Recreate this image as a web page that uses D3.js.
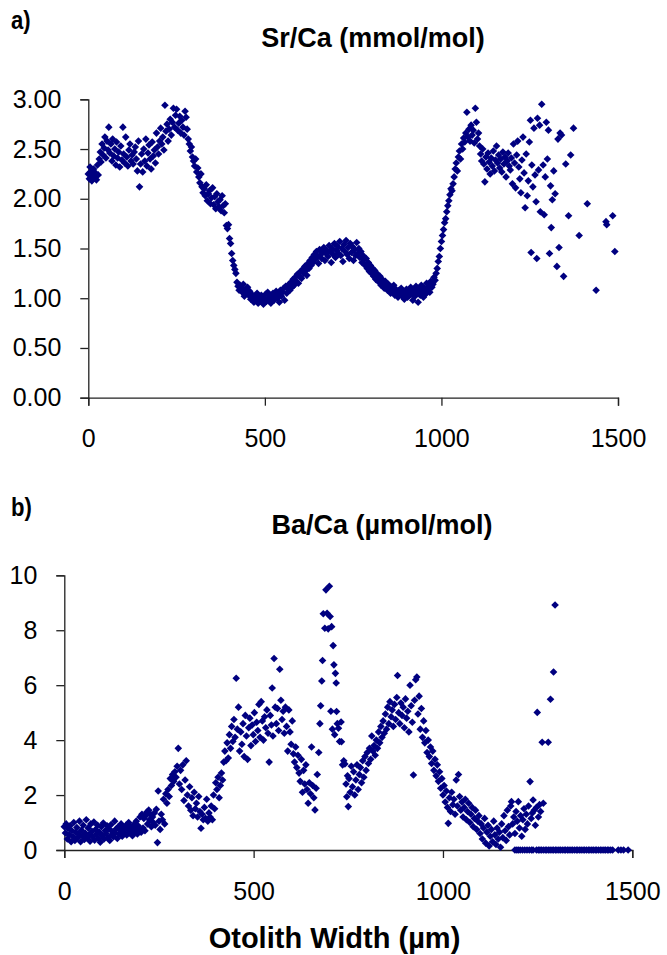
<!DOCTYPE html>
<html>
<head>
<meta charset="utf-8">
<script src="https://cdn.jsdelivr.net/npm/d3@7"></script>
<style>
  body { margin: 0; background: #fff; }
  svg { display: block; font-family: "Liberation Sans", Arial, sans-serif; }
</style>
</head>
<body>
<div id="chart"></div>
<script>
// otolith width (µm) vs Sr/Ca (mmol/mol)
const srCa = [
  [0,2.25],[3,2.20],[5,2.32],[8,2.27],[10,2.18],[12,2.23],[15,2.30],[18,2.21],[20,2.26],[23,2.19],[26,2.34],[28,2.24],
  [31,2.40],[34,2.47],[36,2.37],[39,2.55],[42,2.44],[45,2.51],[47,2.62],[50,2.41],[53,2.58],[56,2.49],[58,2.72],[61,2.46],
  [64,2.55],[67,2.38],[69,2.60],[72,2.43],[75,2.50],[78,2.34],[80,2.57],[83,2.41],[86,2.47],[89,2.32],[92,2.53],[95,2.39],
  [98,2.72],[100,2.45],[103,2.36],[106,2.62],[109,2.42],[112,2.33],[115,2.49],[118,2.55],[121,2.38],[124,2.44],[127,2.35],
  [130,2.47],[133,2.52],[136,2.40],[139,2.28],[142,2.58],[145,2.12],[148,2.35],[151,2.45],[154,2.27],[157,2.50],[160,2.38],
  [163,2.60],[166,2.33],[169,2.46],[172,2.54],[175,2.40],[178,2.30],[181,2.57],[184,2.43],[187,2.49],[190,2.36],[193,2.66],
  [196,2.52],[199,2.45],[202,2.58],[205,2.71],[208,2.55],[211,2.62],[214,2.49],[217,2.94],[220,2.68],[223,2.75],[226,2.58],
  [229,2.70],[232,2.80],[235,2.64],[238,2.77],[241,2.91],[244,2.72],[247,2.84],[250,2.90],[253,2.69],[256,2.76],[259,2.83],
  [262,2.66],[265,2.79],[268,2.72],[271,2.64],[274,2.88],[277,2.82],[280,2.70],[283,2.60],[286,2.55],[289,2.48],[292,2.52],
  [295,2.42],[298,2.38],[301,2.33],[304,2.40],[307,2.27],[310,2.31],[313,2.22],[316,2.16],[319,2.25],[322,2.12],[325,2.06],
  [328,2.10],[331,2.03],[334,2.14],[337,1.98],[340,2.05],[343,2.08],[346,1.95],[349,2.01],[352,2.11],[355,1.94],[358,2.02],
  [361,1.90],[364,2.05],[367,1.97],[370,1.92],[373,1.99],[376,1.88],[379,2.03],[382,1.93],[385,1.86],[388,1.95],[391,1.73],
  [394,1.70],[397,1.74],[400,1.60],[403,1.55],[406,1.45],[409,1.38],[412,1.33],[415,1.29],[418,1.25],[421,1.16],[424,1.12],
  [427,1.08],[430,1.13],[433,1.10],[436,1.06],[439,1.14],[442,1.02],[445,1.09],[448,1.05],[451,1.11],[454,1.03],[457,1.07],
  [460,0.99],[463,1.04],[466,1.00],[469,0.96],[472,1.02],[475,0.98],[478,1.05],[481,0.95],[484,1.01],[487,0.97],[490,1.03],
  [493,0.99],[496,0.94],[499,1.00],[502,1.04],[505,0.97],[508,1.06],[511,0.99],[514,1.02],[517,0.95],[520,1.00],[523,1.05],
  [526,0.98],[529,1.03],[532,1.07],[535,1.00],[538,1.04],[541,0.96],[544,1.08],[547,1.02],[550,1.06],[553,1.10],[556,0.98],
  [559,1.12],[562,1.05],[565,1.09],[568,1.14],[571,1.08],[574,1.16],[577,1.11],[580,1.19],[583,1.13],[586,1.21],[589,1.17],
  [592,1.24],[595,1.15],[598,1.22],[601,1.27],[604,1.20],[607,1.29],[610,1.25],[613,1.32],[616,1.28],[619,1.23],[622,1.35],
  [625,1.30],[628,1.38],[631,1.33],[634,1.41],[637,1.36],[640,1.44],[643,1.39],[646,1.47],[649,1.42],[652,1.35],[655,1.49],
  [658,1.44],[661,1.40],[664,1.46],[667,1.51],[670,1.38],[673,1.45],[676,1.48],[679,1.42],[682,1.53],[685,1.47],[688,1.36],
  [691,1.50],[694,1.44],[697,1.55],[700,1.41],[703,1.48],[706,1.52],[709,1.45],[712,1.57],[715,1.43],[718,1.50],[721,1.37],
  [724,1.54],[727,1.47],[730,1.58],[733,1.44],[736,1.51],[739,1.40],[742,1.55],[745,1.46],[748,1.52],[751,1.38],[754,1.49],
  [757,1.43],[760,1.56],[763,1.45],[766,1.50],[769,1.41],[772,1.47],[775,1.36],[778,1.43],[781,1.39],[784,1.33],[787,1.40],
  [790,1.30],[793,1.36],[796,1.27],[799,1.33],[802,1.25],[805,1.30],[808,1.22],[811,1.28],[814,1.19],[817,1.25],[820,1.21],
  [823,1.16],[826,1.22],[829,1.13],[832,1.19],[835,1.15],[838,1.10],[841,1.17],[844,1.12],[847,1.08],[850,1.14],[853,1.09],
  [856,1.05],[859,1.11],[862,1.07],[865,1.13],[868,1.03],[871,1.09],[874,1.06],[877,1.01],[880,1.08],[883,1.04],[886,1.10],
  [889,1.02],[892,1.06],[895,0.99],[898,1.05],[901,1.09],[904,1.01],[907,1.07],[910,1.03],[913,1.11],[916,1.04],[919,0.98],
  [922,1.08],[925,1.02],[928,1.12],[931,1.05],[934,0.96],[937,1.09],[940,1.03],[943,1.13],[946,1.06],[949,1.01],[952,1.10],
  [955,1.04],[958,1.15],[961,1.08],[964,1.12],[967,1.06],[970,1.17],[973,1.11],[976,1.14],[979,1.21],[982,1.18],[985,1.25],
  [988,1.30],[991,1.37],[994,1.42],[997,1.50],[1000,1.57],[1003,1.63],[1006,1.69],[1009,1.76],[1012,1.80],[1015,1.87],
  [1018,1.93],[1021,1.98],[1024,2.04],[1027,2.10],[1030,2.08],[1033,2.15],[1036,2.22],[1039,2.30],[1042,2.36],[1045,2.28],
  [1048,2.42],[1051,2.48],[1054,2.40],[1057,2.55],[1060,2.50],[1063,2.61],[1066,2.57],[1069,2.66],[1072,2.87],[1075,2.62],
  [1078,2.70],[1081,2.58],[1084,2.74],[1087,2.64],[1090,2.69],[1093,2.56],[1096,2.91],[1099,2.77],[1102,2.60],[1105,2.66],
  [1108,2.53],[1111,2.45],[1114,2.38],[1117,2.50],[1120,2.35],[1123,2.17],[1126,2.42],[1129,2.30],[1132,2.46],[1135,2.37],
  [1138,2.25],[1141,2.41],[1144,2.33],[1147,2.48],[1150,2.28],[1153,2.39],[1156,2.53],[1159,2.36],[1162,2.44],[1165,2.31],
  [1168,2.40],[1171,2.27],[1174,2.47],[1177,2.35],[1180,2.42],[1183,2.22],[1186,2.38],[1189,2.46],[1192,2.33],[1195,2.29],
  [1198,2.41],[1201,2.15],[1204,2.55],[1207,2.36],[1210,2.11],[1213,2.44],[1216,2.58],[1219,2.32],[1222,2.20],[1225,2.06],
  [1228,2.39],[1231,2.62],[1234,2.26],[1237,1.91],[1240,2.45],[1243,2.03],[1246,2.18],[1249,2.57],[1252,2.79],[1254,1.46],
  [1256,2.34],[1259,2.12],[1262,2.71],[1265,2.24],[1268,1.97],[1270,1.40],[1272,2.81],[1275,2.29],[1278,2.74],[1280,1.87],
  [1284,2.95],[1288,2.34],[1291,1.84],[1294,2.22],[1297,2.77],[1300,2.40],[1303,2.69],[1306,1.45],[1309,2.13],[1311,1.71],
  [1314,1.99],[1318,2.28],[1322,2.05],[1327,1.32],[1330,2.60],[1333,1.51],[1336,2.66],[1340,2.64],[1346,1.22],[1352,2.35],
  [1360,1.83],[1366,2.44],[1374,2.71],[1390,1.63],[1413,1.95],[1438,1.08],[1466,1.77],[1468,1.74],[1485,1.83],[1491,1.47]
];

// otolith width (µm) vs Ba/Ca (µmol/mol)
const baCa = [
  [0,0.85],[3,0.62],[5,0.95],[8,0.40],[10,0.78],[13,0.55],[15,0.88],[18,0.30],[20,0.70],[23,0.48],[25,1.00],[28,0.35],
  [30,0.65],[33,0.82],[35,0.45],[38,0.58],[40,1.05],[43,0.30],[45,0.72],[48,0.50],[50,0.90],[53,0.38],[55,0.62],[58,1.10],
  [60,0.44],[63,0.80],[65,0.55],[68,0.32],[70,0.95],[73,0.68],[75,0.48],[78,1.02],[80,0.36],[83,0.75],[85,0.58],[88,0.90],
  [90,0.42],[93,0.64],[95,0.28],[98,0.85],[100,0.52],[103,0.98],[105,0.40],[108,0.70],[110,0.60],[113,0.88],[115,0.45],
  [118,0.76],[120,0.35],[123,0.92],[125,0.55],[128,0.66],[130,0.48],[133,1.05],[135,0.62],[138,0.78],[140,0.42],[143,0.85],
  [145,0.58],[148,0.72],[150,0.95],[153,0.50],[155,0.68],[158,0.82],[160,0.60],[163,0.90],[165,0.55],[168,0.75],[170,1.00],
  [173,0.62],[175,0.85],[178,0.70],[180,0.52],[183,0.92],[185,0.65],[188,0.78],[190,1.05],[193,0.58],[195,0.88],[198,0.72],
  [200,1.20],[203,0.65],[205,1.30],[208,0.80],[210,1.15],[213,0.70],[215,1.25],[218,1.38],[220,0.95],[223,1.45],[225,1.10],
  [228,1.30],[230,0.85],[233,1.20],[235,1.00],[238,1.35],[240,0.90],[243,1.48],[246,0.27],[248,2.15],[250,1.05],[253,0.75],
  [256,1.30],[259,1.10],[262,1.85],[265,0.95],[268,2.05],[271,1.70],[274,2.20],[277,1.95],[280,2.60],[283,2.35],[286,2.75],
  [289,2.50],[292,2.85],[295,2.65],[298,3.05],[301,3.70],[304,2.40],[307,2.90],[310,2.20],[313,3.10],[316,1.80],[319,2.55],
  [322,3.25],[325,2.00],[328,1.60],[331,2.30],[334,1.45],[337,1.90],[340,1.25],[343,2.10],[346,1.50],[349,1.70],[352,1.20],
  [355,1.95],[358,1.40],[361,0.79],[364,1.30],[367,1.10],[370,1.55],[373,1.15],[376,1.85],[379,1.05],[382,1.35],[385,1.20],
  [388,1.60],[391,1.10],[394,2.00],[397,1.50],[400,2.45],[403,2.20],[406,2.65],[409,1.90],[412,2.35],[415,2.80],[418,2.55],
  [421,3.20],[424,3.60],[427,3.25],[430,3.90],[433,3.35],[436,4.20],[439,3.70],[442,4.50],[445,3.95],[448,4.75],[451,4.10],
  [454,6.25],[457,4.40],[460,5.20],[463,3.60],[466,4.30],[469,3.85],[472,4.60],[475,3.40],[478,4.90],[481,4.15],[484,3.30],
  [487,4.45],[490,4.80],[493,3.80],[496,4.55],[499,4.20],[502,5.00],[505,3.95],[508,4.65],[511,4.35],[514,5.30],[517,4.10],
  [520,5.40],[523,4.70],[526,4.00],[529,4.85],[532,4.45],[535,5.10],[538,4.25],[541,3.20],[544,4.90],[547,4.55],[549,5.90],
  [551,4.15],[554,6.97],[557,5.20],[560,4.60],[563,5.15],[566,4.35],[569,6.58],[572,5.45],[575,4.75],[578,5.05],[581,4.25],
  [584,5.20],[587,4.50],[590,3.60],[593,5.10],[596,4.30],[599,3.85],[602,4.70],[605,3.50],[608,3.20],[611,3.75],[614,3.00],
  [617,3.45],[620,2.80],[623,2.50],[626,3.30],[629,2.10],[632,2.90],[635,2.40],[638,3.10],[641,2.20],[644,1.70],[647,2.45],
  [650,2.05],[653,3.75],[656,2.35],[659,1.90],[662,1.46],[665,2.25],[668,2.75],[672,3.55],[675,4.60],[677,5.25],[680,6.15],
  [682,6.90],[684,8.60],[688,8.07],[691,9.47],[694,8.62],[697,8.05],[700,9.60],[702,8.50],[704,5.05],[706,8.13],[708,4.40],
  [710,7.44],[712,6.74],[714,4.20],[716,6.43],[718,6.08],[719,5.04],[721,4.60],[724,4.43],[727,3.95],[731,4.66],[732,3.94],
  [735,3.10],[738,3.25],[741,3.13],[744,2.40],[746,1.94],[748,2.70],[750,1.58],[752,2.60],[755,2.10],[758,3.05],[761,2.30],
  [764,2.85],[767,2.00],[770,2.55],[773,3.10],[776,2.20],[779,2.75],[782,3.00],[785,2.45],[788,3.25],[791,2.65],[794,3.40],
  [797,2.90],[800,3.55],[803,3.15],[806,3.70],[809,3.30],[812,4.15],[815,3.60],[818,3.80],[821,3.45],[824,4.00],[827,3.70],
  [830,4.30],[833,3.90],[836,4.50],[839,4.10],[842,4.70],[845,4.25],[848,4.95],[851,4.40],[854,5.20],[857,4.60],[860,5.40],
  [863,4.85],[866,5.10],[869,4.50],[872,5.30],[875,4.75],[878,5.55],[880,6.35],[883,5.00],[886,4.60],[889,5.35],[892,4.90],
  [895,5.20],[898,4.45],[901,5.50],[904,4.80],[907,5.05],[910,4.30],[913,6.00],[916,5.25],[919,4.65],[922,2.73],[925,5.45],
  [928,6.20],[931,6.30],[934,4.95],[937,5.60],[940,4.40],[943,5.15],[946,4.10],[949,4.70],[952,3.90],[955,4.35],[958,3.55],
  [961,4.00],[964,3.40],[967,3.75],[970,3.15],[973,3.60],[976,2.90],[979,3.30],[982,2.70],[985,3.10],[988,2.50],[991,2.85],
  [994,2.25],[997,2.60],[1000,2.00],[1003,2.35],[1006,1.75],[1009,2.15],[1012,1.55],[1014,0.97],[1017,1.90],[1020,1.40],
  [1023,2.10],[1026,1.65],[1029,1.85],[1032,1.30],[1035,2.55],[1038,1.60],[1041,2.75],[1044,1.95],[1047,1.45],[1050,1.75],
  [1053,1.20],[1056,1.55],[1059,1.85],[1062,1.10],[1065,1.40],[1068,1.70],[1071,1.00],[1074,1.30],[1077,1.55],[1080,0.85],
  [1083,1.15],[1086,1.45],[1089,0.75],[1092,1.05],[1095,1.25],[1098,0.60],[1101,0.95],[1104,0.40],[1107,0.80],[1110,1.15],
  [1113,0.25],[1116,0.65],[1119,0.90],[1122,0.15],[1125,0.50],[1128,0.75],[1131,0.30],[1134,1.05],[1137,0.55],[1140,0.20],
  [1143,0.80],[1146,0.40],[1149,0.65],[1152,0.10],[1155,0.95],[1158,0.45],[1161,1.25],[1164,0.70],[1167,0.35],[1170,1.45],
  [1173,0.85],[1176,0.55],[1179,1.60],[1181,1.76],[1184,0.95],[1187,1.20],[1190,0.60],[1193,1.40],[1196,1.05],[1199,1.76],
  [1202,0.80],[1205,1.25],[1208,0.50],[1211,1.10],[1214,1.50],[1217,0.75],[1220,1.30],[1223,0.95],[1226,1.60],[1230,2.49],
  [1233,1.15],[1236,1.35],[1238,1.82],[1241,1.45],[1244,0.90],[1247,1.55],[1249,5.01],[1252,1.20],[1255,1.65],[1258,1.40],
  [1262,3.92],[1265,1.70],[1278,3.92],[1284,5.49],[1292,6.48],[1296,8.92],
  [1190,0],[1195,0],[1199,0],[1204,0],[1210,0],[1216,0],[1222,0],[1228,0],[1234,0],[1238,0],[1247,0],[1252,0],[1256,0],
  [1260,0],[1265,0],[1270,0],[1274,0],[1279,0],[1283,0],[1288,0],[1292,0],[1297,0],[1301,0],[1306,0],[1310,0],[1315,0],
  [1320,0],[1324,0],[1329,0],[1333,0],[1338,0],[1342,0],[1347,0],[1352,0],[1356,0],[1361,0],[1365,0],[1370,0],[1374,0],
  [1379,0],[1384,0],[1388,0],[1393,0],[1397,0],[1402,0],[1406,0],[1411,0],[1416,0],[1420,0],[1425,0],[1429,0],[1434,0],
  [1438,0],[1443,0],[1448,0],[1463,0],[1470,0],[1477,0],[1489,0]
];

const xTicks = [0, 500, 1000, 1500];
const srTicks = [0, 0.5, 1, 1.5, 2, 2.5, 3];
const baTicks = [0, 2, 4, 6, 8, 10];

const width = 667, height = 955;
const markColor = '#000080';
const axisColor = '#222';

const svg = d3.select('#chart').append('svg')
    .attr('width', width)
    .attr('height', height);

const diamond = 'M0,-3.8L3.8,0L0,3.8L-3.8,0Z';

function drawPanel(cfg) {
    const x = d3.scaleLinear().domain([0, 1500]).range(cfg.xRange);
    const y = d3.scaleLinear().domain(cfg.yDomain).range(cfg.yRange);

    const xAxis = svg.append('g')
        .attr('transform', `translate(0, ${cfg.yRange[0]})`)
        .call(d3.axisBottom(x).tickValues(xTicks).tickSize(8).tickPadding(24).tickFormat(d3.format('d')));

    const yAxis = svg.append('g')
        .attr('transform', `translate(${cfg.xRange[0]}, 0)`)
        .call(d3.axisLeft(y).tickValues(cfg.yTicks).tickSize(8).tickPadding(19).tickFormat(cfg.fmt));

    [xAxis, yAxis].forEach(ax => {
        ax.select('.domain').attr('stroke', axisColor).attr('stroke-width', 1.3);
        ax.selectAll('.tick line').attr('stroke', axisColor).attr('stroke-width', 1.3);
        ax.selectAll('.tick text')
            .attr('fill', '#000')
            .style('font-family', '"Liberation Sans", Arial, sans-serif')
            .style('font-size', '25px');
    });

    svg.append('g')
        .selectAll('path')
        .data(cfg.data)
        .enter()
        .append('path')
        .attr('d', diamond)
        .attr('transform', d => `translate(${x(d[0])}, ${y(d[1])})`)
        .attr('fill', markColor);

    svg.append('text')
        .attr('x', cfg.titleX)
        .attr('y', cfg.titleY)
        .attr('text-anchor', 'middle')
        .style('font-size', '27px')
        .style('font-weight', 'bold')
        .text(cfg.title);

    // panel letter, slightly condensed like the original
    svg.append('text')
        .attr('transform', `translate(11, ${cfg.letterY}) scale(0.85, 1)`)
        .style('font-size', '26px')
        .style('font-weight', 'bold')
        .text(cfg.letter);
}

drawPanel({
    data: srCa,
    xRange: [88.3, 618],
    yDomain: [0, 3],
    yRange: [397.7, 99.3],
    yTicks: srTicks,
    fmt: d3.format('.2f'),
    title: 'Sr/Ca (mmol/mol)',
    titleX: 373,
    titleY: 47,
    letter: 'a)',
    letterY: 29
});

drawPanel({
    data: baCa,
    xRange: [64.3, 632.3],
    yDomain: [0, 10],
    yRange: [850, 575.3],
    yTicks: baTicks,
    fmt: d3.format('d'),
    title: 'Ba/Ca (µmol/mol)',
    titleX: 382,
    titleY: 534,
    letter: 'b)',
    letterY: 516
});

svg.append('text')
    .attr('x', 334.5)
    .attr('y', 948)
    .attr('text-anchor', 'middle')
    .style('font-size', '29px')
    .style('font-weight', 'bold')
    .text('Otolith Width (µm)');
</script>
</body>
</html>
